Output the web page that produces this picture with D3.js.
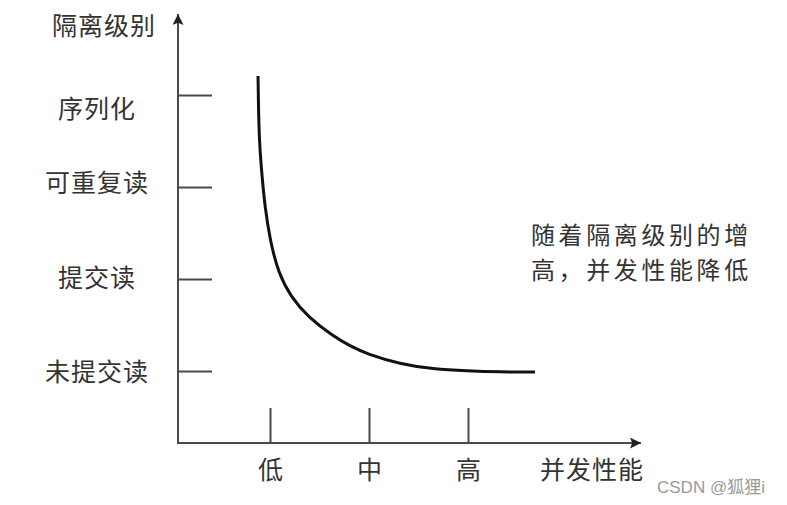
<!DOCTYPE html>
<html><head><meta charset="utf-8">
<script src="https://cdn.jsdelivr.net/npm/d3@7"></script>
<style>
body{margin:0;background:#fff;}
svg text{font-family:"Noto Sans CJK SC","Noto Sans",sans-serif;}
</style></head>
<body><svg id="c" width="787" height="505"></svg>
<script>
// ---- data ----
const isolationLevels = ["未提交读","提交读","可重复读","序列化"]; // y levels 1..4
const isolationValues = [1,2,3,4];
const performanceLabels = ["低","中","高"]; // x levels 1..3
const performanceValues = [1,2,3];
const curveX = [0.879,0.884,0.892,0.916,0.949,1.000,1.084,1.212,1.384,1.636,1.808,1.980,2.313,2.646,2.990,3.323,3.677];
const curveY = [4.207,3.837,3.511,3.152,2.783,2.424,2.065,1.804,1.587,1.380,1.272,1.185,1.076,1.022,1.000,0.989,0.989];
const yTitle = "隔离级别";
const xTitle = "并发性能";
const noteLines = ["随着隔离级别的增","高，并发性能降低"];
const watermark = "CSDN @狐狸i";

const svg = d3.select("#c");
const x = d3.scaleLinear().domain([0,5]).range([171,666]);
const y = d3.scaleLinear().domain([0,4]).range([463,95]);
const ox = 178, oy = 443;
const axisColor = "#4a4a4a", textColor = "#333";
const labelShift = [0,-2,-5,13]; // vertical nudge of y labels (px), as in the reference

// arrowheads
const defs = svg.append("defs");
defs.append("marker").attr("id","arr").attr("viewBox","0 0 10 10").attr("refX",10).attr("refY",5)
  .attr("markerUnits","userSpaceOnUse").attr("orient","auto")
  .attr("markerWidth",20).attr("markerHeight",11)
  .append("path").attr("d","M0,0L10,5L0,10L2,5Z").attr("fill","#222");

// axes lines
svg.append("line").attr("x1",ox).attr("y1",oy).attr("x2",ox).attr("y2",14)
  .attr("stroke",axisColor).attr("stroke-width",2).attr("marker-end","url(#arr)");
svg.append("line").attr("x1",ox-1).attr("y1",oy).attr("x2",641).attr("y2",oy)
  .attr("stroke",axisColor).attr("stroke-width",2).attr("marker-end","url(#arr)");

// y axis ticks + labels
const yAxis = d3.axisLeft(y).tickValues(isolationValues)
  .tickFormat((d,i)=>isolationLevels[i]).tickSize(-34).tickPadding(81);
const gy = svg.append("g").attr("transform",`translate(${ox},0)`).call(yAxis);
gy.select(".domain").remove();
gy.selectAll(".tick line").attr("stroke",axisColor).attr("stroke-width",2);
gy.selectAll(".tick text").attr("text-anchor","middle").attr("font-size",25)
  .attr("letter-spacing","1px").attr("fill",textColor).attr("dy","0.36em")
  .attr("y",(d,i)=>labelShift[i])
  .style("font-family",'"Noto Sans CJK SC",sans-serif');

// x axis ticks + labels
const xAxis = d3.axisBottom(x).tickValues(performanceValues)
  .tickFormat((d,i)=>performanceLabels[i]).tickSize(-35).tickPadding(27);
const gx = svg.append("g").attr("transform",`translate(0,${oy})`).call(xAxis);
gx.select(".domain").remove();
gx.selectAll(".tick line").attr("stroke",axisColor).attr("stroke-width",2);
gx.selectAll(".tick text").attr("font-size",25).attr("fill",textColor).attr("dy","0.36em")
  .style("font-family",'"Noto Sans CJK SC",sans-serif');

// titles
svg.append("text").attr("x",104).attr("y",26).attr("dy","0.36em").attr("text-anchor","middle")
  .attr("font-size",25).attr("letter-spacing","1px").attr("fill",textColor).text(yTitle);
svg.append("text").attr("x",592).attr("y",470).attr("dy","0.36em").attr("text-anchor","middle")
  .attr("font-size",25).attr("letter-spacing","1px").attr("fill",textColor).text(xTitle);

// note (two lines)
svg.append("g").selectAll("text").data(noteLines).join("text")
  .attr("x",531).attr("y",(d,i)=>235+i*35).attr("dy","0.36em")
  .attr("font-size",24).attr("letter-spacing","3.6px").attr("fill",textColor).text(d=>d);

// curve
const pts = curveX.map((v,i)=>[v,curveY[i]]);
svg.append("path").datum(pts)
  .attr("d",d3.line().x(d=>x(d[0])).y(d=>y(d[1])).curve(d3.curveBasis))
  .attr("fill","none").attr("stroke","#111").attr("stroke-width",3).attr("stroke-linecap","butt");

// watermark
svg.append("text").attr("x",657).attr("y",487).attr("dy","0.36em").attr("font-size",17)
  .attr("fill","#999").style("font-family",'"Liberation Sans","Noto Sans CJK SC",sans-serif').text(watermark);
</script></body></html>
